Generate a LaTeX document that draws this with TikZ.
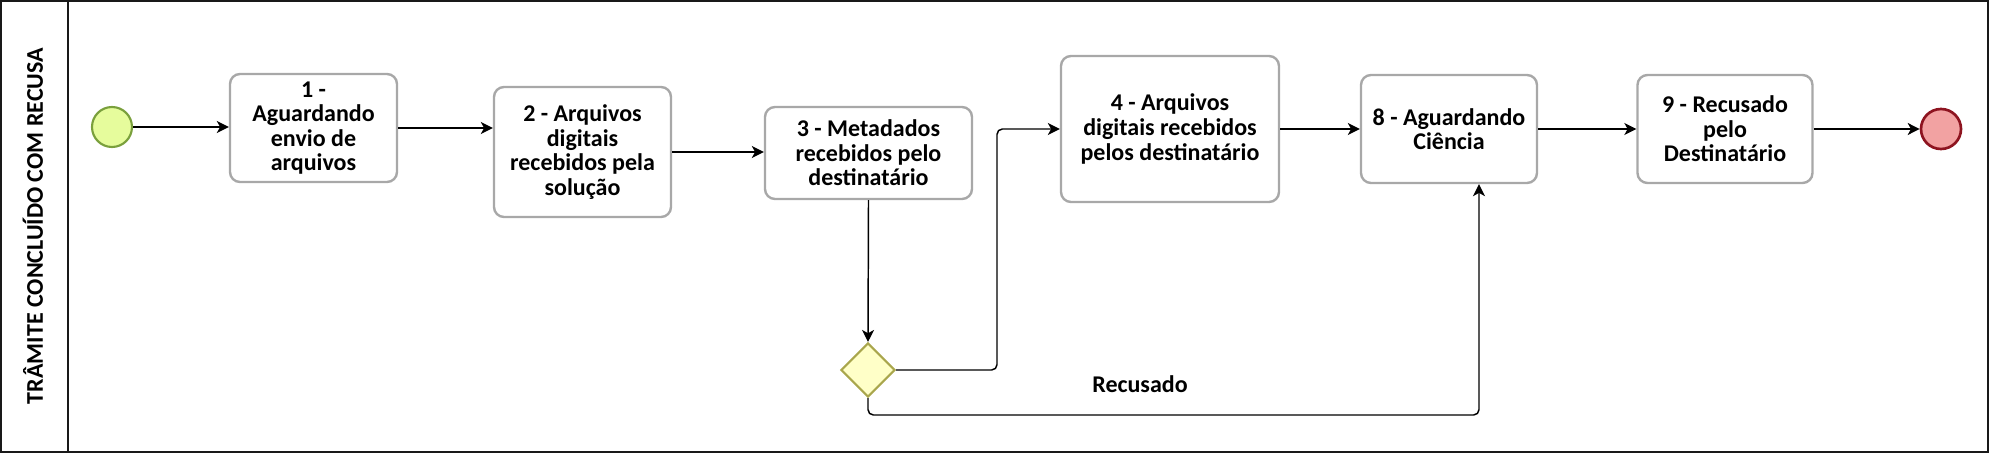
\documentclass[tikz,border=0pt]{standalone}
\usepackage{fontspec}
\setmainfont{Carlito}
\usepackage{xcolor}
\usepackage{tikz}
\usetikzlibrary{positioning,arrows.meta,shapes.geometric}

\definecolor{boxgray}{HTML}{A8A8A8}
\definecolor{startfill}{HTML}{E6FC9C}
\definecolor{startline}{HTML}{7AA03C}
\definecolor{endfill}{HTML}{F2A2A2}
\definecolor{endline}{HTML}{8E1420}
\definecolor{gwfill}{HTML}{FFFFC8}
\definecolor{gwline}{HTML}{A9A64C}

\begin{document}
\begin{tikzpicture}[x=0.75pt, y=-0.75pt,
		font=\bfseries\fontsize{18}{18.4}\selectfont,
		task/.style={draw=boxgray, line width=1.8pt, rounded corners=7.5pt, fill=white, align=center, inner sep=2pt},
		evstart/.style={circle, draw=startline, line width=1.6pt, fill=startfill, minimum size=30pt, inner sep=0pt},
		evend/.style={circle, draw=endline, line width=2pt, fill=endfill, minimum size=30pt, inner sep=0pt},
		gateway/.style={diamond, draw=gwline, line width=1.6pt, fill=gwfill, minimum size=40.5pt, inner sep=0pt},
		flow/.style={line width=1.1pt, -{Stealth[length=9pt, width=9pt, inset=2.5pt]}, rounded corners=4pt}]
		\useasboundingbox (0,0) rectangle (1989,453);
		% lane
		\draw[line width=1.5pt, draw=black!90] (1,1) rectangle (1988,452);
		\draw[line width=1.2pt, draw=black!90] (68,1) -- (68,452);
		\node[rotate=90] (lane) at (33,226) {TRÂMITE CONCLUÍDO COM RECUSA};

		\node[evstart] (start) at (112,127) {};
		\node[task, minimum width=125.25pt, minimum height=81pt] (t1) at (313.5,128) {1 -\\Aguardando\\envio de\\arquivos};
		\node[task, minimum width=132.75pt, minimum height=97.5pt] (t2) at (582.5,152) {2 - Arquivos\\digitais\\recebidos pela\\solução};
		\node[task, minimum width=155.25pt, minimum height=69pt] (t3) at (868.5,153) {3 - Metadados\\recebidos pelo\\destinatário};
		\node[gateway] (gw) at (868,370) {};
		\node[task, minimum width=163.5pt, minimum height=109.5pt] (t4) at (1170,129) {4 - Arquivos\\digitais recebidos\\pelos destinatário};
		\node[task, minimum width=132pt, minimum height=81pt] (t8) at (1449,129) {8 - Aguardando\\Ciência};
		\node[task, minimum width=131.25pt, minimum height=81pt] (t9) at (1725,129) {9 - Recusado\\pelo\\Destinatário};
		\node[evend] (end) at (1941,129) {};
		\node (recusado) at (1140,384) {Recusado};

		\coordinate (up) at (997,370);
		\coordinate (low) at (1479,415);

		\draw[flow] (start.east) -- (start.east -| t1.west);
		\draw[flow] (t1.east) -- (t1.east -| t2.west);
		\draw[flow] (t2.east) -- (t2.east -| t3.west);
		\draw[flow] (t3.south) -- (gw.north);
		\draw[flow] (gw.east) -- (up) |- (t4.west);
		\draw[flow] (gw.south) |- (low) -- (low |- t8.south);
		\draw[flow] (t4.east) -- (t4.east -| t8.west);
		\draw[flow] (t8.east) -- (t8.east -| t9.west);
		\draw[flow] (t9.east) -- (t9.east -| end.west);
	\end{tikzpicture}
\end{document}
